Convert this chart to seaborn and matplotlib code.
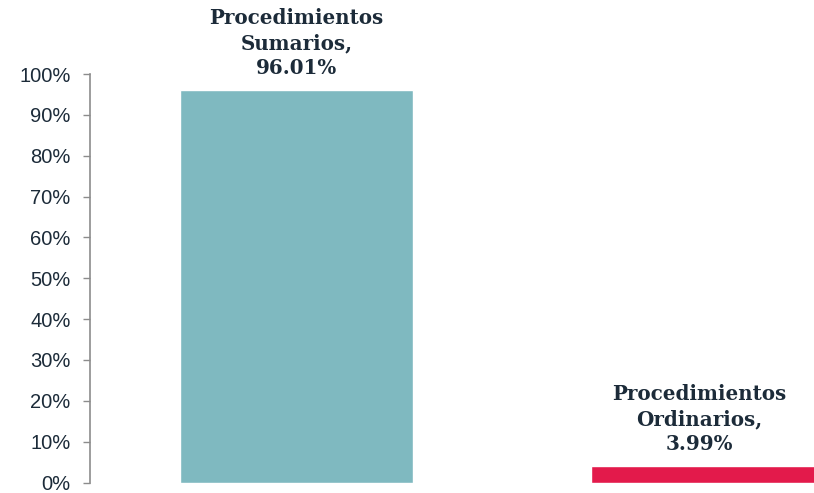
import numpy as np
import pandas as pd
import seaborn as sns
import matplotlib.pyplot as plt
from matplotlib.ticker import PercentFormatter

categorias = ['Procedimientos\nSumarios', 'Procedimientos\nOrdinarios']
valores = [0.9601, 0.0399]
etiquetas = ['96.01%', '3.99%']
colores = ['#7FB9C0', '#E31A4B']

sns.set_style('white')
plt.rcParams['font.family'] = ['Liberation Sans', 'DejaVu Sans']

df = pd.DataFrame({'cat': categorias, 'val': valores})

fig = plt.figure(figsize=(8.14, 4.93), dpi=100)
ax = fig.add_axes([90 / 814, 10.5 / 493, 1 - 90 / 814, 408.5 / 493])

sns.barplot(data=df, x='cat', y='val', hue='cat', palette=colores,
            width=0.567, legend=False, ax=ax, saturation=1)

# la etiqueta de la segunda barra va un poco a la izquierda
desplaz = [0, -6]
for i, v in enumerate(valores):
    ax.annotate(categorias[i] + ',\n' + etiquetas[i], xy=(i, v),
                xytext=(desplaz[i], 9), textcoords='offset points',
                ha='center', va='bottom', multialignment='center',
                fontsize=14.3, fontweight='bold', color='#1C2B39',
                family='DejaVu Serif', linespacing=1.3,
                annotation_clip=False)

ax.set_ylim(0, 1)
ax.set_xlim(-0.502, 1.259)
ax.set_yticks(np.arange(0, 1.01, 0.1))
ax.yaxis.set_major_formatter(PercentFormatter(1.0, decimals=0))
ax.tick_params(axis='y', which='major', left=True, length=5, width=1,
               color='#8C8C8C', pad=9, labelsize=14.5, labelcolor='#1C2B39')
ax.set_xticks([])
ax.set_xlabel('')
ax.set_ylabel('')
for s in ['top', 'right', 'bottom']:
    ax.spines[s].set_visible(False)
ax.spines['left'].set_color('#8C8C8C')
ax.spines['left'].set_linewidth(1.2)

fig.savefig('out.png', dpi=100)
